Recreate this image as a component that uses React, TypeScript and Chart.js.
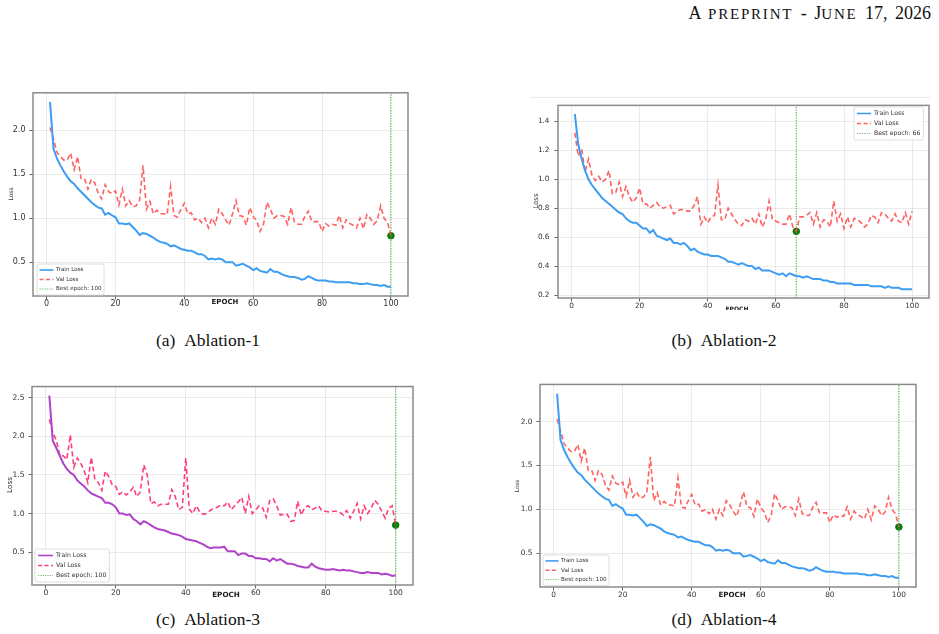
import React, { useEffect, useRef } from "react";
import { Chart, registerables } from "chart.js";

Chart.register(...registerables);

// ---- data -------------------------------------------------------------
const epochs = Array.from({ length: 100 }, (_, i) => i + 1);

const trainA = [
  2.32, 1.79, 1.68, 1.6, 1.53, 1.47, 1.42, 1.39, 1.34, 1.3,
  1.26, 1.22, 1.18, 1.15, 1.12, 1.11, 1.04, 1.06, 1.03, 1.01,
  0.94, 0.94, 0.93, 0.94, 0.9, 0.86, 0.81, 0.83, 0.82, 0.8,
  0.78, 0.75, 0.73, 0.72, 0.71, 0.68, 0.69, 0.67, 0.65, 0.64,
  0.63, 0.63, 0.61, 0.59, 0.59, 0.57, 0.53, 0.54, 0.53, 0.54,
  0.53, 0.5, 0.5, 0.5, 0.46, 0.47, 0.48, 0.46, 0.44, 0.41,
  0.43, 0.4, 0.39, 0.38, 0.42, 0.39, 0.39, 0.37, 0.35, 0.34,
  0.33, 0.33, 0.32, 0.3, 0.31, 0.34, 0.32, 0.3, 0.29, 0.29,
  0.29, 0.28, 0.28, 0.27, 0.27, 0.27, 0.27, 0.27, 0.26, 0.26,
  0.25, 0.25, 0.26, 0.25, 0.24, 0.24, 0.23, 0.24, 0.22, 0.22,
];
const valA = [
  2.03, 1.9, 1.75, 1.7, 1.66, 1.66, 1.74, 1.55, 1.7, 1.45,
  1.45, 1.33, 1.44, 1.4, 1.28, 1.22, 1.38, 1.3, 1.28, 1.31,
  1.15, 1.33, 1.14, 1.2, 1.13, 1.14, 1.2, 1.6, 1.1, 1.19,
  1.05, 1.09, 1.05, 1.05, 1.04, 1.36, 1.03, 1.01, 1.1, 1.17,
  1.05, 1.06, 0.98, 1.0, 0.95, 1.0, 0.89, 1.0, 0.93, 1.1,
  1.05, 0.98, 0.92, 1.05, 1.2, 1.03, 1.02, 0.92, 1.12, 1.02,
  0.97, 0.85, 0.93, 1.18, 1.1, 1.0, 1.03, 1.03, 1.02, 0.93,
  1.12, 0.95, 0.93, 0.93, 1.02, 1.08, 0.96, 0.96, 0.96, 0.85,
  0.94, 0.91, 0.93, 0.92, 1.03, 0.89, 0.98, 0.94, 0.92, 0.89,
  1.0, 0.88, 1.04, 1.0, 0.93, 0.97, 1.14, 1.0, 0.95, 0.8,
];

const trainB = [
  1.45, 1.24, 1.14, 1.06, 1.0, 0.96, 0.93, 0.9, 0.87, 0.85,
  0.83, 0.81, 0.79, 0.77, 0.76, 0.73, 0.71, 0.7, 0.7, 0.68,
  0.66, 0.66, 0.63, 0.65, 0.61, 0.6, 0.59, 0.58, 0.59, 0.56,
  0.56, 0.55, 0.56, 0.54, 0.51, 0.52, 0.5, 0.49, 0.48, 0.48,
  0.47, 0.47, 0.47, 0.46, 0.45, 0.43, 0.43, 0.42, 0.41, 0.42,
  0.41, 0.4, 0.4, 0.38, 0.39, 0.37, 0.37, 0.37, 0.36, 0.35,
  0.34, 0.35, 0.33, 0.35, 0.34, 0.33, 0.33, 0.32, 0.33, 0.32,
  0.31, 0.31, 0.31, 0.3, 0.3, 0.29, 0.29, 0.28, 0.28, 0.28,
  0.28, 0.28, 0.27, 0.27, 0.27, 0.27, 0.27, 0.26, 0.26, 0.26,
  0.26, 0.25, 0.26, 0.25, 0.25, 0.25, 0.24, 0.24, 0.24, 0.24,
];
const valB = [
  1.32, 1.16, 1.21, 1.05, 1.14, 1.03, 0.99, 1.02, 0.98, 1.0,
  1.06, 0.9, 0.91, 0.98, 0.88, 0.95, 0.88, 0.84, 0.87, 0.94,
  0.83, 0.83, 0.8, 0.82, 0.84, 0.81, 0.8, 0.81, 0.82, 0.76,
  0.78, 0.79, 0.79, 0.78, 0.78, 0.82, 0.88, 0.69, 0.74, 0.7,
  0.74, 0.75, 0.96, 0.72, 0.72, 0.8, 0.76, 0.72, 0.69, 0.68,
  0.72, 0.71, 0.73, 0.69, 0.76, 0.67, 0.72, 0.85, 0.72, 0.71,
  0.7, 0.69, 0.69, 0.76, 0.67, 0.64, 0.74, 0.74, 0.75, 0.77,
  0.69, 0.77, 0.67, 0.72, 0.71, 0.67, 0.85, 0.71, 0.76, 0.66,
  0.74, 0.67, 0.73, 0.72, 0.7, 0.67, 0.69, 0.75, 0.74, 0.7,
  0.77, 0.76, 0.73, 0.71, 0.76, 0.71, 0.7, 0.77, 0.69, 0.78,
];

const trainC = [
  2.53, 1.94, 1.85, 1.75, 1.65, 1.58, 1.53, 1.5, 1.43, 1.39,
  1.35, 1.3, 1.26, 1.24, 1.22, 1.2, 1.14, 1.14, 1.12, 1.08,
  1.0, 1.0, 0.98, 0.99, 0.93, 0.9, 0.86, 0.9, 0.88, 0.85,
  0.82, 0.8, 0.79, 0.78, 0.76, 0.74, 0.73, 0.72, 0.7, 0.67,
  0.66, 0.65, 0.64, 0.62, 0.6, 0.57, 0.55, 0.56, 0.56, 0.56,
  0.57, 0.51, 0.51, 0.51, 0.46, 0.48, 0.48, 0.45, 0.45, 0.42,
  0.42, 0.41, 0.41, 0.38, 0.42, 0.39, 0.41, 0.38, 0.35, 0.35,
  0.34, 0.32, 0.31, 0.3, 0.3, 0.35, 0.31, 0.29, 0.28, 0.27,
  0.27, 0.28, 0.27, 0.26, 0.27, 0.26, 0.26, 0.25, 0.24, 0.23,
  0.23, 0.24, 0.23, 0.23, 0.23, 0.21, 0.22, 0.21, 0.19, 0.2,
];
const valC = [
  2.22, 2.05, 1.95, 1.75, 1.75, 1.7, 2.02, 1.6, 1.72, 1.65,
  1.55, 1.4, 1.73, 1.45, 1.4, 1.3, 1.55, 1.48, 1.37, 1.35,
  1.25, 1.28, 1.24, 1.28, 1.34, 1.22, 1.28, 1.63, 1.5, 1.13,
  1.15, 1.1, 1.12, 1.12, 1.12, 1.31, 1.22, 1.05, 1.08, 1.72,
  1.06, 1.0, 1.1, 1.02, 0.99, 1.0, 1.04, 1.07, 1.08, 1.11,
  1.1, 1.15, 1.05, 1.1, 1.15, 1.21, 1.0, 1.22, 1.0, 1.05,
  1.1, 1.07, 0.95, 1.17, 1.19, 1.1, 0.98, 0.99, 0.99, 0.9,
  0.91, 1.16, 0.98, 1.08, 1.1, 1.05, 1.07, 1.1, 1.03, 1.03,
  1.02, 1.03, 1.03, 1.02, 0.98, 1.04, 0.94, 1.03, 1.13, 0.93,
  1.1, 1.0, 1.07, 1.17, 1.12, 1.03, 0.94, 1.07, 1.1, 0.85,
];

const bestA = 100;
const bestB = 66;
const bestC = 100;

const xTicks = [0, 20, 40, 60, 80, 100];
const yTicksA = [0.5, 1.0, 1.5, 2.0];
const yTicksB = [0.2, 0.4, 0.6, 0.8, 1.0, 1.2, 1.4];
const yTicksC = [0.5, 1.0, 1.5, 2.0, 2.5];

const legendLabels = ["Train Loss", "Val Loss"];

// ---- panel layout ------------------------------------------------------
type Box = { l: number; t: number; r: number; b: number };
type Panel = {
  key: string;
  left: number;
  top: number;
  width: number;
  height: number;
  frame: Box;
  train: number[];
  val: number[];
  best: number;
  yTicks: number[];
  trainColor: string;
  valColor: string;
  tickSize: number;
  tickPad: number;
  xTickPad: number;
  yLabel: { x: number; y: number; size: number };
  xLabel: { x: number; y: number; size: number };
  legend: { x: number; y: number; size: number; row: number; sample: number; pad: number };
};

const BLUE = "#3d9df3";
const RED = "rgba(255, 70, 70, 0.85)";
const PURPLE = "#b043c9";
const PINK = "rgba(255, 30, 95, 0.85)";
const GREEN_LINE = "rgba(70, 175, 70, 0.8)";
const GREEN_DOT = "#0b7d0b";

const panels: Panel[] = [
  {
    key: "a",
    left: 0, top: 84, width: 420, height: 226,
    frame: { l: 33, t: 92, r: 408, b: 296 },
    train: trainA, val: valA, best: bestA, yTicks: yTicksA,
    trainColor: BLUE, valColor: RED,
    tickSize: 8, tickPad: 4, xTickPad: 0,
    yLabel: { x: 11, y: 194, size: 6 },
    xLabel: { x: 225, y: 302, size: 7 },
    legend: { x: 37, y: 264, size: 5.6, row: 9.5, sample: 14, pad: 2.5 },
  },
  {
    key: "b",
    left: 500, top: 96, width: 439, height: 214,
    frame: { l: 558, t: 103, r: 929, b: 298 },
    train: trainB, val: valB, best: bestB, yTicks: yTicksB,
    trainColor: BLUE, valColor: RED,
    tickSize: 7.3, tickPad: 5, xTickPad: 0,
    yLabel: { x: 536, y: 201, size: 6.8 },
    xLabel: { x: 737, y: 309.5, size: 6 },
    legend: { x: 854, y: 107, size: 6.2, row: 10, sample: 14, pad: 3 },
  },
  {
    key: "c",
    left: 0, top: 378, width: 420, height: 226,
    frame: { l: 32, t: 385, r: 413, b: 585 },
    train: trainC, val: valC, best: bestC, yTicks: yTicksC,
    trainColor: PURPLE, valColor: PINK,
    tickSize: 7.6, tickPad: 4, xTickPad: 0,
    yLabel: { x: 10, y: 485, size: 7.2 },
    xLabel: { x: 226, y: 595, size: 7.2 },
    legend: { x: 35, y: 549, size: 6.2, row: 10, sample: 15, pad: 3 },
  },
  {
    key: "d",
    left: 500, top: 376, width: 439, height: 228,
    frame: { l: 540, t: 382, r: 916, b: 587 },
    train: trainA, val: valA, best: bestA, yTicks: yTicksA,
    trainColor: BLUE, valColor: RED,
    tickSize: 7.4, tickPad: 4, xTickPad: 0,
    yLabel: { x: 517, y: 486, size: 5.8 },
    xLabel: { x: 732, y: 595, size: 7.1 },
    legend: { x: 543, y: 555, size: 5.6, row: 9.3, sample: 13, pad: 2.5 },
  },
];

function autoLimits(values: number[]): [number, number] {
  const lo = Math.min(...values);
  const hi = Math.max(...values);
  const m = (hi - lo) * 0.05;
  return [lo - m, hi + m];
}

const FONT = "'DejaVu Sans', 'Noto Sans', sans-serif";

function PanelChart({ p }: { p: Panel }) {
  const ref = useRef<HTMLCanvasElement | null>(null);

  useEffect(() => {
    if (!ref.current) return;
    const [yMin, yMax] = autoLimits([...p.train, ...p.val]);
    const [xMin, xMax] = autoLimits(epochs);
    const ox = p.left;
    const oy = p.top;
    const bestVal = p.val[p.best - 1];

    const decor = {
      id: "decor",
      afterDraw(chart: any) {
        const ctx: CanvasRenderingContext2D = chart.ctx;
        const a = chart.chartArea;
        ctx.save();

        // axes frame
        ctx.strokeStyle = "#8a8a8a";
        ctx.lineWidth = 1.5;
        ctx.setLineDash([]);
        ctx.strokeRect(a.left, a.top, a.right - a.left, a.bottom - a.top);

        // axis titles
        ctx.textAlign = "center";
        ctx.textBaseline = "middle";
        ctx.font = `bold ${p.xLabel.size}px ${FONT}`;
        ctx.fillStyle = "#1a1a1a";
        ctx.fillText("EPOCH", p.xLabel.x - ox, p.xLabel.y - oy);

        ctx.save();
        ctx.translate(p.yLabel.x - ox, p.yLabel.y - oy);
        ctx.rotate(-Math.PI / 2);
        ctx.font = `${p.yLabel.size}px ${FONT}`;
        ctx.fillStyle = "#333";
        ctx.fillText("Loss", 0, 0);
        ctx.restore();

        // legend
        const L = p.legend;
        const labels = [...legendLabels, `Best epoch: ${p.best}`];
        ctx.font = `${L.size}px ${FONT}`;
        const tw = Math.max(...labels.map((t) => ctx.measureText(t).width));
        const bx = L.x - ox;
        const by = L.y - oy;
        const bw = L.pad + L.sample + L.pad + tw + L.pad;
        const bh = L.row * 3 + L.pad;
        ctx.beginPath();
        const r = 2;
        ctx.moveTo(bx + r, by);
        ctx.arcTo(bx + bw, by, bx + bw, by + bh, r);
        ctx.arcTo(bx + bw, by + bh, bx, by + bh, r);
        ctx.arcTo(bx, by + bh, bx, by, r);
        ctx.arcTo(bx, by, bx + bw, by, r);
        ctx.closePath();
        ctx.fillStyle = "rgba(255,255,255,0.85)";
        ctx.fill();
        ctx.strokeStyle = "#d6d6d6";
        ctx.lineWidth = 0.8;
        ctx.stroke();

        const styles = [
          { color: p.trainColor, dash: [] as number[], w: 1.6 },
          { color: p.valColor, dash: [4, 2.5], w: 1.4 },
          { color: GREEN_LINE, dash: [1.2, 1.2], w: 1.1 },
        ];
        labels.forEach((t, i) => {
          const cy = by + L.pad / 2 + L.row * (i + 0.5);
          const s = styles[i];
          ctx.beginPath();
          ctx.setLineDash(s.dash);
          ctx.strokeStyle = s.color;
          ctx.lineWidth = s.w;
          ctx.moveTo(bx + L.pad, cy);
          ctx.lineTo(bx + L.pad + L.sample, cy);
          ctx.stroke();
          ctx.setLineDash([]);
          ctx.fillStyle = "#333";
          ctx.textAlign = "left";
          ctx.textBaseline = "middle";
          ctx.fillText(t, bx + L.pad * 2 + L.sample, cy);
        });
        ctx.restore();
      },
    };

    const gridCfg = {
      color: "rgba(0,0,0,0.09)",
      lineWidth: 0.9,
      tickLength: 3.5,
      tickColor: "#555",
      drawTicks: true,
    };

    const chart = new Chart(ref.current, {
      type: "line",
      data: {
        datasets: [
          {
            label: "Train Loss",
            data: epochs.map((e, i) => ({ x: e, y: p.train[i] })),
            borderColor: p.trainColor,
            borderWidth: 2,
            pointRadius: 0,
            tension: 0,
          },
          {
            label: "Val Loss",
            data: epochs.map((e, i) => ({ x: e, y: p.val[i] })),
            borderColor: p.valColor,
            borderWidth: 1.6,
            borderDash: [5, 3],
            pointRadius: 0,
            tension: 0,
          },
          {
            label: `Best epoch: ${p.best}`,
            data: [
              { x: p.best, y: yMin },
              { x: p.best, y: yMax },
            ],
            borderColor: GREEN_LINE,
            borderWidth: 1.3,
            borderDash: [1.3, 1.3],
            pointRadius: 0,
          },
          {
            label: "best",
            data: [{ x: p.best, y: bestVal }],
            showLine: false,
            pointRadius: 3.3,
            pointBackgroundColor: GREEN_DOT,
            pointBorderColor: GREEN_DOT,
            pointBorderWidth: 1,
          },
        ],
      },
      options: {
        animation: false,
        responsive: false,
        devicePixelRatio: 1,
        layout: {
          padding: {
            top: p.frame.t - p.top,
            right: p.left + p.width - p.frame.r,
            left: 0,
            bottom: 0,
          },
        },
        scales: {
          x: {
            type: "linear",
            min: xMin,
            max: xMax,
            afterBuildTicks: (s: any) => {
              s.ticks = xTicks.map((v) => ({ value: v }));
            },
            afterFit: (s: any) => {
              s.height = p.top + p.height - p.frame.b;
            },
            ticks: {
              autoSkip: false,
              maxRotation: 0,
              padding: p.xTickPad,
              color: "#333",
              font: { family: FONT, size: p.tickSize },
              callback: (v: any) => String(v),
            },
            grid: gridCfg,
            border: { display: false },
          },
          y: {
            type: "linear",
            min: yMin,
            max: yMax,
            afterBuildTicks: (s: any) => {
              s.ticks = p.yTicks.map((v) => ({ value: v }));
            },
            afterFit: (s: any) => {
              s.width = p.frame.l - p.left;
            },
            ticks: {
              autoSkip: false,
              padding: p.tickPad,
              color: "#333",
              font: { family: FONT, size: p.tickSize },
              callback: (v: any) => Number(v).toFixed(1),
            },
            grid: gridCfg,
            border: { display: false },
          },
        },
        plugins: {
          legend: { display: false },
          tooltip: { enabled: false },
        },
      },
      plugins: [decor],
    });
    return () => chart.destroy();
  }, [p]);

  return (
    <canvas
      ref={ref}
      width={p.width}
      height={p.height}
      style={{
        position: "absolute",
        left: p.left,
        top: p.top,
        width: p.width,
        height: p.height,
        filter: "blur(0.3px)",
      }}
    />
  );
}

const captions = [
  { tag: "(a)", text: "Ablation-1", x: 208, y: 340 },
  { tag: "(b)", text: "Ablation-2", x: 724, y: 340 },
  { tag: "(c)", text: "Ablation-3", x: 208, y: 619 },
  { tag: "(d)", text: "Ablation-4", x: 724, y: 619 },
];

const smallCap = { fontSize: 15, letterSpacing: 1.8 };

export default function App() {
  return (
    <div
      style={{
        position: "absolute",
        left: 0,
        top: 0,
        width: 939,
        height: 634,
        background: "#fff",
        overflow: "hidden",
        fontFamily: "'Liberation Serif', 'DejaVu Serif', serif",
        color: "#111",
      }}
    >
      <div
        style={{
          position: "absolute",
          right: 8,
          top: 2,
          fontSize: 18,
          whiteSpace: "nowrap",
          lineHeight: "22px",
          wordSpacing: 3,
        }}
      >
        A <span style={smallCap}>PREPRINT</span> - J<span style={smallCap}>UNE</span> 17, 2026
      </div>
      <div style={{ position: "absolute", left: 530, top: 97, width: 400, height: 1, background: "#e8e8e8" }} />
      {panels.map((p) => (
        <PanelChart key={p.key} p={p} />
      ))}
      {captions.map((c) => (
        <div
          key={c.tag}
          style={{
            position: "absolute",
            left: c.x - 100,
            width: 200,
            top: c.y - 11,
            lineHeight: "22px",
            textAlign: "center",
            fontSize: 17.5,
            whiteSpace: "nowrap",
          }}
        >
          {c.tag}
          {"\u2002"}
          {c.text}
        </div>
      ))}
    </div>
  );
}
